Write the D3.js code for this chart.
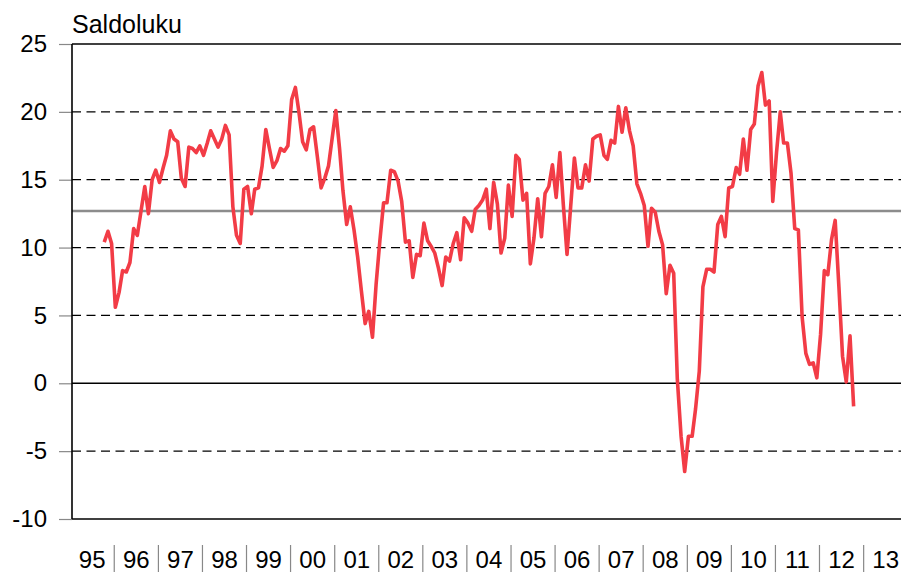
<!DOCTYPE html>
<html>
<head>
<meta charset="utf-8">
<script src="https://cdn.jsdelivr.net/npm/d3@7"></script>
<style>
  html, body { margin: 0; padding: 0; background: #fff; }
  svg { display: block; font-family: "Liberation Sans", Arial, sans-serif; }
</style>
</head>
<body>
<svg id="chart" width="901" height="572"></svg>
<script>
// ---- data ----
const startYear = 1995;
const startMonth = 10; // October 1995, monthly observations
const saldoluku = [
  10.4, 11.2, 10.3,
  5.6, 6.7, 8.3, 8.2, 8.9, 11.4, 10.9, 12.7, 14.5, 12.5, 15.0, 15.7,
  14.8, 15.9, 16.8, 18.6, 18.0, 17.8, 15.1, 14.5, 17.4, 17.3, 17.0, 17.5,
  16.8, 17.7, 18.6, 18.0, 17.4, 18.0, 19.0, 18.3, 13.0, 10.9, 10.3, 14.3,
  14.5, 12.5, 14.3, 14.4, 16.0, 18.7, 17.3, 15.9, 16.4, 17.3, 17.1, 17.5,
  20.9, 21.8, 20.0, 17.8, 17.2, 18.7, 18.9, 16.7, 14.4, 15.1, 16.0, 18.0,
  20.1, 17.3, 14.2, 11.7, 13.0, 11.3, 9.3, 6.8, 4.4, 5.3, 3.4, 7.3,
  10.5, 13.3, 13.3, 15.7, 15.6, 14.9, 13.4, 10.4, 10.5, 7.8, 9.5, 9.4,
  11.8, 10.5, 10.1, 9.6, 8.5, 7.2, 9.3, 9.0, 10.3, 11.1, 9.1, 12.2,
  11.8, 11.2, 12.8, 13.1, 13.5, 14.3, 11.4, 14.8, 13.2, 9.6, 10.7, 14.6,
  12.3, 16.8, 16.5, 13.5, 14.0, 8.8, 10.7, 13.6, 10.8, 14.0, 14.5, 16.1,
  13.7, 17.0, 13.2, 9.5, 13.0, 16.6, 14.4, 14.4, 16.1, 14.9, 18.0, 18.2,
  18.3, 16.8, 16.5, 17.9, 17.7, 20.4, 18.5, 20.3, 18.6, 17.5, 14.7, 14.0,
  13.1, 10.1, 12.9, 12.6, 11.2, 10.2, 6.6, 8.7, 8.1, 0.3, -3.9, -6.5,
  -3.9, -3.9, -1.9, 0.9, 7.1, 8.4, 8.4, 8.2, 11.7, 12.3, 10.8, 14.4,
  14.5, 15.9, 15.4, 18.0, 15.7, 18.7, 19.1, 21.9, 22.9, 20.5, 20.8, 13.4,
  17.0, 20.0, 17.7, 17.7, 15.5, 11.4, 11.3, 4.9, 2.2, 1.4, 1.5, 0.4,
  3.6, 8.3, 8.0, 10.6, 12.0, 7.1, 2.0, 0.1, 3.5, -1.7
];
const longTermAverage = 12.7;
const yTickValues = [-10, -5, 0, 5, 10, 15, 20, 25];
const yearLabels = ["95","96","97","98","99","00","01","02","03","04","05","06","07","08","09","10","11","12","13"];
const yAxisTitle = "Saldoluku";

// ---- chart ----
const svg = d3.select("#chart");
const plotLeft = 72, plotRight = 901, plotTop = 44, plotBottom = 519;

const points = saldoluku.map((v, i) => ({
  date: new Date(startYear, startMonth - 1 + i, 10),
  value: v
}));

const x = d3.scaleTime()
  .domain([new Date(1995, 0, 1), new Date(2014, 0, 1)])
  .range([70.2, 907.7]);
const y = d3.scaleLinear().domain([-10, 25]).range([plotBottom, plotTop]);

// y-axis tick marks & labels
const yAxis = d3.axisLeft(y).tickValues(yTickValues).tickSize(13).tickPadding(12)
  .tickFormat(d => String(d));
const gy = svg.append("g").attr("transform", `translate(${plotLeft},0)`).call(yAxis);
gy.select(".domain").remove();
gy.selectAll(".tick line").attr("stroke", "#888").attr("stroke-width", 1.2);
gy.selectAll(".tick text")
  .attr("font-size", 24).attr("fill", "#000")
  .attr("font-family", "Liberation Sans, Arial, sans-serif");

// horizontal grid
const grid = svg.append("g");
yTickValues.forEach(v => {
  const solid = (v === 0 || v === 25 || v === -10);
  grid.append("line")
    .attr("x1", plotLeft).attr("x2", plotRight)
    .attr("y1", y(v)).attr("y2", y(v))
    .attr("stroke", "#000")
    .attr("stroke-width", solid ? 1.6 : 1.2)
    .attr("stroke-dasharray", solid ? null : "9,5.5");
});

// average line
svg.append("line")
  .attr("x1", plotLeft).attr("x2", plotRight)
  .attr("y1", y(longTermAverage)).attr("y2", y(longTermAverage))
  .attr("stroke", "#8c8c8c").attr("stroke-width", 2.6);

// y axis line
svg.append("line")
  .attr("x1", plotLeft).attr("x2", plotLeft)
  .attr("y1", plotTop).attr("y2", plotBottom)
  .attr("stroke", "#000").attr("stroke-width", 1.6);

// data line
const line = d3.line().x(d => x(d.date)).y(d => y(d.value));
svg.append("path")
  .datum(points)
  .attr("d", line)
  .attr("fill", "none")
  .attr("stroke", "#f23c46")
  .attr("stroke-width", 3.6)
  .attr("stroke-linejoin", "round")
  .attr("stroke-linecap", "butt");

// x axis: year separators and labels
const years = d3.range(1995, 2014);
const gx = svg.append("g");
years.slice(1).forEach(yr => {
  const xx = x(new Date(yr, 0, 1));
  gx.append("line")
    .attr("x1", xx).attr("x2", xx)
    .attr("y1", 545).attr("y2", 572)
    .attr("stroke", "#888").attr("stroke-width", 1.2);
});
years.forEach((yr, i) => {
  const xm = (x(new Date(yr, 0, 1)) + x(new Date(yr + 1, 0, 1))) / 2;
  gx.append("text")
    .attr("x", xm).attr("y", 568)
    .attr("text-anchor", "middle")
    .attr("font-size", 24)
    .attr("fill", "#000")
    .text(yearLabels[i]);
});

// axis title
svg.append("text")
  .attr("x", 72).attr("y", 33)
  .attr("font-size", 25)
  .attr("fill", "#000")
  .text(yAxisTitle);
</script>
</body>
</html>
